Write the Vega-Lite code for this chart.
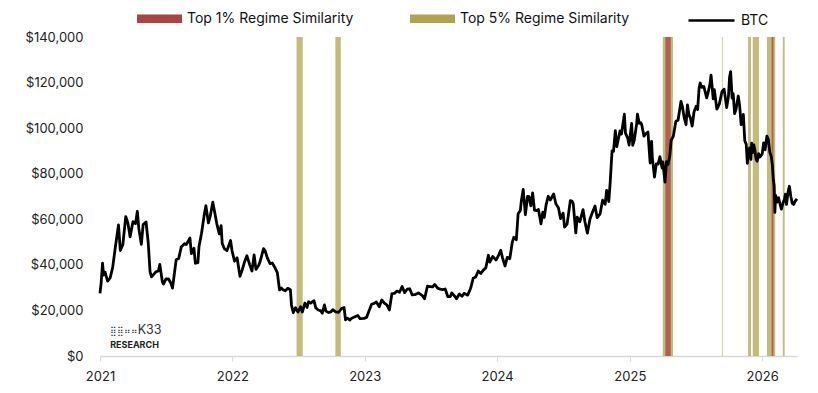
{
  "$schema": "https://vega.github.io/schema/vega-lite/v6.json",
  "width": 697,
  "height": 319,
  "autosize": {"type": "none"},
  "padding": {"left": 100, "top": 37, "right": 21, "bottom": 37},
  "background": "#ffffff",
  "config": {
    "view": {"stroke": null},
    "font": "Inter",
    "axis": {"labelFont": "Inter", "labelFontSize": 13, "labelColor": "#222222", "grid": false},
    "legend": {"labelFont": "Inter", "labelFontSize": 14, "labelColor": "#111111", "labelLimit": 0}
  },
  "datasets": {
    "bands": [
      {"s": "2022-06-27", "e": "2022-07-14", "r": "Top 5% Regime Similarity"},
      {"s": "2022-10-12", "e": "2022-10-27", "r": "Top 5% Regime Similarity"},
      {"s": "2025-04-02", "e": "2025-04-30", "r": "Top 5% Regime Similarity"},
      {"s": "2025-09-12", "e": "2025-09-14", "r": "Top 5% Regime Similarity"},
      {"s": "2025-11-23", "e": "2025-12-01", "r": "Top 5% Regime Similarity"},
      {"s": "2025-12-06", "e": "2025-12-23", "r": "Top 5% Regime Similarity"},
      {"s": "2026-01-14", "e": "2026-02-06", "r": "Top 5% Regime Similarity"},
      {"s": "2026-02-27", "e": "2026-03-04", "r": "Top 5% Regime Similarity"},
      {"s": "2025-04-09", "e": "2025-04-24", "r": "Top 1% Regime Similarity"},
      {"s": "2026-01-27", "e": "2026-02-01", "r": "Top 1% Regime Similarity"}
    ],
    "logo": [
      {"d": "2021-01-29", "p": 11100, "t": "⣿⣿⠶⠶", "k": "icon"},
      {"d": "2021-04-15", "p": 11300, "t": "K33", "k": "k33"},
      {"d": "2021-01-29", "p": 4700, "t": "RESEARCH", "k": "res"}
    ],
    "btc": [
      {"d": "2021-01-01", "p": 27500}, {"d": "2021-01-04", "p": 31900}, {"d": "2021-01-08", "p": 40700},
      {"d": "2021-01-11", "p": 35500}, {"d": "2021-01-15", "p": 36800}, {"d": "2021-01-22", "p": 32900},
      {"d": "2021-01-29", "p": 34300}, {"d": "2021-02-05", "p": 38900}, {"d": "2021-02-12", "p": 47400},
      {"d": "2021-02-21", "p": 57500}, {"d": "2021-02-26", "p": 46300}, {"d": "2021-03-05", "p": 48900},
      {"d": "2021-03-13", "p": 61200}, {"d": "2021-03-19", "p": 58300}, {"d": "2021-03-25", "p": 52300},
      {"d": "2021-04-02", "p": 59000}, {"d": "2021-04-09", "p": 58100}, {"d": "2021-04-14", "p": 63500},
      {"d": "2021-04-18", "p": 56000}, {"d": "2021-04-25", "p": 49000}, {"d": "2021-04-30", "p": 57700},
      {"d": "2021-05-08", "p": 58800}, {"d": "2021-05-14", "p": 49700}, {"d": "2021-05-19", "p": 37000},
      {"d": "2021-05-23", "p": 34700}, {"d": "2021-05-28", "p": 35600}, {"d": "2021-06-04", "p": 36900},
      {"d": "2021-06-11", "p": 37300}, {"d": "2021-06-15", "p": 40200}, {"d": "2021-06-22", "p": 32500},
      {"d": "2021-06-25", "p": 31600}, {"d": "2021-07-02", "p": 33800}, {"d": "2021-07-09", "p": 33800},
      {"d": "2021-07-16", "p": 31800}, {"d": "2021-07-20", "p": 29800}, {"d": "2021-07-26", "p": 37300},
      {"d": "2021-07-30", "p": 42200}, {"d": "2021-08-06", "p": 42800}, {"d": "2021-08-13", "p": 47800},
      {"d": "2021-08-22", "p": 49300}, {"d": "2021-08-27", "p": 48900}, {"d": "2021-09-06", "p": 51800},
      {"d": "2021-09-10", "p": 44900}, {"d": "2021-09-17", "p": 47300}, {"d": "2021-09-21", "p": 40700},
      {"d": "2021-09-28", "p": 41000}, {"d": "2021-10-01", "p": 48100}, {"d": "2021-10-08", "p": 53900},
      {"d": "2021-10-15", "p": 61500}, {"d": "2021-10-20", "p": 66000}, {"d": "2021-10-27", "p": 58400},
      {"d": "2021-11-01", "p": 61300}, {"d": "2021-11-08", "p": 67500}, {"d": "2021-11-12", "p": 64200},
      {"d": "2021-11-19", "p": 58100}, {"d": "2021-11-26", "p": 53600}, {"d": "2021-12-01", "p": 57200},
      {"d": "2021-12-04", "p": 49400}, {"d": "2021-12-10", "p": 47100}, {"d": "2021-12-17", "p": 46200},
      {"d": "2021-12-27", "p": 50700}, {"d": "2021-12-31", "p": 46300}, {"d": "2022-01-07", "p": 41600},
      {"d": "2022-01-14", "p": 43100}, {"d": "2022-01-22", "p": 35000}, {"d": "2022-01-28", "p": 37700},
      {"d": "2022-02-04", "p": 41500}, {"d": "2022-02-10", "p": 44000}, {"d": "2022-02-18", "p": 40000},
      {"d": "2022-02-24", "p": 37300}, {"d": "2022-03-02", "p": 44400}, {"d": "2022-03-07", "p": 38000},
      {"d": "2022-03-14", "p": 39600}, {"d": "2022-03-18", "p": 41200}, {"d": "2022-03-28", "p": 47100},
      {"d": "2022-04-01", "p": 46300}, {"d": "2022-04-08", "p": 42800}, {"d": "2022-04-15", "p": 40500},
      {"d": "2022-04-21", "p": 40800}, {"d": "2022-04-29", "p": 38600}, {"d": "2022-05-05", "p": 36600},
      {"d": "2022-05-11", "p": 29000}, {"d": "2022-05-16", "p": 29800}, {"d": "2022-05-20", "p": 29200},
      {"d": "2022-05-27", "p": 28600}, {"d": "2022-06-03", "p": 29700}, {"d": "2022-06-10", "p": 29100},
      {"d": "2022-06-13", "p": 22400}, {"d": "2022-06-18", "p": 19000}, {"d": "2022-06-24", "p": 21200},
      {"d": "2022-07-01", "p": 19300}, {"d": "2022-07-08", "p": 21600}, {"d": "2022-07-13", "p": 19300},
      {"d": "2022-07-20", "p": 23200}, {"d": "2022-07-26", "p": 21300}, {"d": "2022-07-30", "p": 23800},
      {"d": "2022-08-05", "p": 23200}, {"d": "2022-08-14", "p": 24300}, {"d": "2022-08-19", "p": 21100},
      {"d": "2022-08-26", "p": 20200}, {"d": "2022-09-02", "p": 19800}, {"d": "2022-09-06", "p": 18800},
      {"d": "2022-09-12", "p": 22400}, {"d": "2022-09-16", "p": 19700}, {"d": "2022-09-23", "p": 19100},
      {"d": "2022-09-30", "p": 19400}, {"d": "2022-10-05", "p": 20300}, {"d": "2022-10-13", "p": 19400},
      {"d": "2022-10-21", "p": 19200}, {"d": "2022-10-29", "p": 20800}, {"d": "2022-11-05", "p": 21300},
      {"d": "2022-11-09", "p": 15900}, {"d": "2022-11-14", "p": 16600}, {"d": "2022-11-21", "p": 15800},
      {"d": "2022-11-25", "p": 16500}, {"d": "2022-12-02", "p": 17000}, {"d": "2022-12-13", "p": 17800},
      {"d": "2022-12-19", "p": 16400}, {"d": "2022-12-30", "p": 16500}, {"d": "2023-01-06", "p": 16900},
      {"d": "2023-01-13", "p": 19900}, {"d": "2023-01-20", "p": 22700}, {"d": "2023-01-27", "p": 23100},
      {"d": "2023-02-02", "p": 23700}, {"d": "2023-02-10", "p": 21600}, {"d": "2023-02-17", "p": 24600},
      {"d": "2023-02-24", "p": 23200}, {"d": "2023-03-03", "p": 22400}, {"d": "2023-03-10", "p": 20200},
      {"d": "2023-03-17", "p": 27400}, {"d": "2023-03-24", "p": 27500}, {"d": "2023-03-31", "p": 28500},
      {"d": "2023-04-07", "p": 28000}, {"d": "2023-04-14", "p": 30500}, {"d": "2023-04-21", "p": 27800},
      {"d": "2023-04-28", "p": 29300}, {"d": "2023-05-05", "p": 29500}, {"d": "2023-05-12", "p": 26800},
      {"d": "2023-05-19", "p": 26900}, {"d": "2023-05-29", "p": 27700}, {"d": "2023-06-09", "p": 26500},
      {"d": "2023-06-15", "p": 25100}, {"d": "2023-06-23", "p": 30700}, {"d": "2023-06-30", "p": 30500},
      {"d": "2023-07-07", "p": 30300}, {"d": "2023-07-13", "p": 31400}, {"d": "2023-07-21", "p": 29800},
      {"d": "2023-07-28", "p": 29300}, {"d": "2023-08-04", "p": 29100}, {"d": "2023-08-11", "p": 29400},
      {"d": "2023-08-18", "p": 26100}, {"d": "2023-08-25", "p": 26100}, {"d": "2023-08-29", "p": 27700},
      {"d": "2023-09-08", "p": 25900}, {"d": "2023-09-11", "p": 25100}, {"d": "2023-09-19", "p": 27200},
      {"d": "2023-09-26", "p": 26200}, {"d": "2023-10-02", "p": 27500}, {"d": "2023-10-12", "p": 26700},
      {"d": "2023-10-20", "p": 29700}, {"d": "2023-10-27", "p": 34100}, {"d": "2023-11-03", "p": 34700},
      {"d": "2023-11-10", "p": 37300}, {"d": "2023-11-17", "p": 36200}, {"d": "2023-11-24", "p": 37700},
      {"d": "2023-12-01", "p": 38700}, {"d": "2023-12-08", "p": 44200}, {"d": "2023-12-12", "p": 41200},
      {"d": "2023-12-20", "p": 43700}, {"d": "2023-12-29", "p": 42100}, {"d": "2024-01-05", "p": 44200},
      {"d": "2024-01-11", "p": 46400}, {"d": "2024-01-16", "p": 43100}, {"d": "2024-01-23", "p": 39500},
      {"d": "2024-01-29", "p": 43300}, {"d": "2024-02-05", "p": 42700}, {"d": "2024-02-12", "p": 50000},
      {"d": "2024-02-16", "p": 52100}, {"d": "2024-02-23", "p": 51000}, {"d": "2024-02-28", "p": 62400},
      {"d": "2024-03-05", "p": 63800}, {"d": "2024-03-08", "p": 68300}, {"d": "2024-03-13", "p": 73100},
      {"d": "2024-03-19", "p": 62000}, {"d": "2024-03-25", "p": 70000}, {"d": "2024-03-29", "p": 69900},
      {"d": "2024-04-03", "p": 65900}, {"d": "2024-04-08", "p": 71600}, {"d": "2024-04-13", "p": 64000},
      {"d": "2024-04-19", "p": 63800}, {"d": "2024-04-24", "p": 64300}, {"d": "2024-05-01", "p": 58000},
      {"d": "2024-05-06", "p": 63100}, {"d": "2024-05-10", "p": 60800}, {"d": "2024-05-15", "p": 66200},
      {"d": "2024-05-21", "p": 70100}, {"d": "2024-05-27", "p": 68500}, {"d": "2024-06-05", "p": 71100},
      {"d": "2024-06-11", "p": 66800}, {"d": "2024-06-18", "p": 65100}, {"d": "2024-06-24", "p": 60300},
      {"d": "2024-07-01", "p": 62700}, {"d": "2024-07-05", "p": 56600}, {"d": "2024-07-12", "p": 57900},
      {"d": "2024-07-21", "p": 68200}, {"d": "2024-07-26", "p": 67900}, {"d": "2024-07-29", "p": 66800},
      {"d": "2024-08-05", "p": 54000}, {"d": "2024-08-09", "p": 60900}, {"d": "2024-08-16", "p": 58900},
      {"d": "2024-08-25", "p": 64200}, {"d": "2024-08-30", "p": 59100}, {"d": "2024-09-06", "p": 53900},
      {"d": "2024-09-13", "p": 60000}, {"d": "2024-09-20", "p": 63100}, {"d": "2024-09-27", "p": 65800},
      {"d": "2024-10-03", "p": 60700}, {"d": "2024-10-11", "p": 62400}, {"d": "2024-10-18", "p": 68400},
      {"d": "2024-10-25", "p": 66600}, {"d": "2024-10-29", "p": 72700}, {"d": "2024-11-04", "p": 67800},
      {"d": "2024-11-08", "p": 76500}, {"d": "2024-11-13", "p": 90000}, {"d": "2024-11-17", "p": 89800},
      {"d": "2024-11-22", "p": 98900}, {"d": "2024-11-26", "p": 91900}, {"d": "2024-12-05", "p": 98800},
      {"d": "2024-12-09", "p": 97400}, {"d": "2024-12-17", "p": 106100}, {"d": "2024-12-20", "p": 97800},
      {"d": "2024-12-26", "p": 95700}, {"d": "2024-12-30", "p": 92600}, {"d": "2025-01-06", "p": 102100},
      {"d": "2025-01-09", "p": 92500}, {"d": "2025-01-13", "p": 94500}, {"d": "2025-01-20", "p": 102000},
      {"d": "2025-01-22", "p": 106100}, {"d": "2025-01-27", "p": 102100}, {"d": "2025-01-31", "p": 102400},
      {"d": "2025-02-03", "p": 101400}, {"d": "2025-02-09", "p": 96500}, {"d": "2025-02-14", "p": 97500},
      {"d": "2025-02-20", "p": 98300}, {"d": "2025-02-26", "p": 84700}, {"d": "2025-03-02", "p": 94200},
      {"d": "2025-03-04", "p": 87200}, {"d": "2025-03-10", "p": 78500}, {"d": "2025-03-15", "p": 84300},
      {"d": "2025-03-20", "p": 84200}, {"d": "2025-03-25", "p": 87500}, {"d": "2025-03-31", "p": 82500},
      {"d": "2025-04-02", "p": 85200}, {"d": "2025-04-08", "p": 76300}, {"d": "2025-04-12", "p": 85300},
      {"d": "2025-04-16", "p": 84000}, {"d": "2025-04-21", "p": 87500}, {"d": "2025-04-25", "p": 94600},
      {"d": "2025-05-01", "p": 96500}, {"d": "2025-05-08", "p": 103000}, {"d": "2025-05-14", "p": 103500},
      {"d": "2025-05-22", "p": 111700}, {"d": "2025-05-26", "p": 109400}, {"d": "2025-05-31", "p": 104600},
      {"d": "2025-06-05", "p": 101500}, {"d": "2025-06-09", "p": 110200}, {"d": "2025-06-13", "p": 105900},
      {"d": "2025-06-17", "p": 104500}, {"d": "2025-06-22", "p": 100900}, {"d": "2025-06-27", "p": 107100},
      {"d": "2025-07-03", "p": 109600}, {"d": "2025-07-07", "p": 108200}, {"d": "2025-07-11", "p": 117500},
      {"d": "2025-07-14", "p": 119800}, {"d": "2025-07-18", "p": 117900}, {"d": "2025-07-24", "p": 118300},
      {"d": "2025-08-01", "p": 113300}, {"d": "2025-08-04", "p": 115000}, {"d": "2025-08-10", "p": 119300},
      {"d": "2025-08-13", "p": 123300}, {"d": "2025-08-19", "p": 112900}, {"d": "2025-08-22", "p": 116900},
      {"d": "2025-08-29", "p": 108400}, {"d": "2025-09-01", "p": 109200}, {"d": "2025-09-05", "p": 110700},
      {"d": "2025-09-12", "p": 116000}, {"d": "2025-09-18", "p": 117100}, {"d": "2025-09-25", "p": 109000},
      {"d": "2025-09-30", "p": 114000}, {"d": "2025-10-03", "p": 122300}, {"d": "2025-10-06", "p": 124800},
      {"d": "2025-10-10", "p": 113200}, {"d": "2025-10-13", "p": 115200}, {"d": "2025-10-17", "p": 106400},
      {"d": "2025-10-21", "p": 108400}, {"d": "2025-10-27", "p": 114100}, {"d": "2025-10-31", "p": 109600},
      {"d": "2025-11-04", "p": 101500}, {"d": "2025-11-10", "p": 106000}, {"d": "2025-11-14", "p": 94500},
      {"d": "2025-11-18", "p": 92900}, {"d": "2025-11-21", "p": 84600}, {"d": "2025-11-24", "p": 88200},
      {"d": "2025-11-27", "p": 91300}, {"d": "2025-12-01", "p": 86300}, {"d": "2025-12-03", "p": 93400},
      {"d": "2025-12-07", "p": 89300}, {"d": "2025-12-09", "p": 92600}, {"d": "2025-12-12", "p": 90300},
      {"d": "2025-12-15", "p": 86400}, {"d": "2025-12-18", "p": 85500}, {"d": "2025-12-22", "p": 88800},
      {"d": "2025-12-26", "p": 87300}, {"d": "2026-01-01", "p": 88700}, {"d": "2026-01-05", "p": 93500},
      {"d": "2026-01-09", "p": 90500}, {"d": "2026-01-14", "p": 96500}, {"d": "2026-01-18", "p": 95000},
      {"d": "2026-01-22", "p": 89500}, {"d": "2026-01-26", "p": 87500}, {"d": "2026-01-29", "p": 84000},
      {"d": "2026-02-01", "p": 77000}, {"d": "2026-02-03", "p": 75000}, {"d": "2026-02-05", "p": 63000},
      {"d": "2026-02-07", "p": 70500}, {"d": "2026-02-11", "p": 67500}, {"d": "2026-02-15", "p": 69500},
      {"d": "2026-02-19", "p": 66800}, {"d": "2026-02-23", "p": 64500}, {"d": "2026-02-27", "p": 67000},
      {"d": "2026-03-03", "p": 68500}, {"d": "2026-03-06", "p": 71000}, {"d": "2026-03-09", "p": 66500},
      {"d": "2026-03-14", "p": 72500}, {"d": "2026-03-17", "p": 74500}, {"d": "2026-03-21", "p": 70000},
      {"d": "2026-03-25", "p": 67000}, {"d": "2026-03-29", "p": 66500}, {"d": "2026-04-02", "p": 68000},
      {"d": "2026-04-07", "p": 69000}
    ]
  },
  "layer": [
    {
      "data": {"name": "bands"},
      "mark": {"type": "rect", "opacity": 0.75},
      "encoding": {
        "x": {
          "field": "s", "type": "temporal",
          "scale": {"domain": ["2021-01-01", "2026-04-07"]},
          "axis": {
            "title": null, "format": "%Y", "tickCount": {"interval": "year", "step": 1},
            "domainColor": "#d9d9d9", "domainWidth": 1.5, "tickColor": "#d9d9d9", "tickSize": 5,
            "labelPadding": 9, "labelFontSize": 13, "labelFlush": false
          }
        },
        "x2": {"field": "e"},
        "color": {
          "field": "r", "type": "nominal",
          "scale": {"domain": ["Top 1% Regime Similarity", "Top 5% Regime Similarity"], "range": ["#a94442", "#b0a350"]},
          "legend": {
            "title": null, "orient": "none", "direction": "horizontal",
            "legendX": 37, "legendY": -41,
            "symbolType": "M-1,-0.19H1V0.19H-1Z", "symbolSize": 2025, "symbolOpacity": 1,
            "symbolStrokeWidth": 0, "labelOffset": 5, "columnPadding": 56
          }
        }
      }
    },
    {
      "data": {"name": "btc"},
      "mark": {"type": "line", "strokeWidth": 2.8, "strokeJoin": "round"},
      "encoding": {
        "x": {"field": "d", "type": "temporal"},
        "y": {
          "field": "p", "type": "quantitative",
          "scale": {"domain": [0, 140000], "nice": false},
          "axis": {
            "title": null, "values": [0, 20000, 40000, 60000, 80000, 100000, 120000, 140000],
            "format": "$,.0f", "domain": false, "ticks": false, "labelPadding": 17, "labelFontSize": 13
          }
        },
        "stroke": {
          "datum": "BTC",
          "scale": {"range": ["#000000"]},
          "legend": {
            "title": null, "orient": "none", "direction": "horizontal",
            "legendX": 587, "legendY": -41,
            "symbolType": "stroke", "symbolSize": 2116, "symbolStrokeWidth": 2.5, "labelOffset": 5
          }
        }
      }
    },
    {
      "data": {"name": "logo"},
      "transform": [{"filter": "datum.k === 'icon'"}],
      "mark": {"type": "text", "align": "left", "baseline": "middle", "fontSize": 8.5, "color": "#333333"},
      "encoding": {
        "x": {"field": "d", "type": "temporal"},
        "y": {"field": "p", "type": "quantitative"},
        "text": {"field": "t"}
      }
    },
    {
      "data": {"name": "logo"},
      "transform": [{"filter": "datum.k === 'k33'"}],
      "mark": {"type": "text", "align": "left", "baseline": "middle", "fontSize": 12.5, "color": "#333333"},
      "encoding": {
        "x": {"field": "d", "type": "temporal"},
        "y": {"field": "p", "type": "quantitative"},
        "text": {"field": "t"}
      }
    },
    {
      "data": {"name": "logo"},
      "transform": [{"filter": "datum.k === 'res'"}],
      "mark": {"type": "text", "align": "left", "baseline": "middle", "fontSize": 9, "fontWeight": "bold", "color": "#222222"},
      "encoding": {
        "x": {"field": "d", "type": "temporal"},
        "y": {"field": "p", "type": "quantitative"},
        "text": {"field": "t"}
      }
    }
  ]
}
